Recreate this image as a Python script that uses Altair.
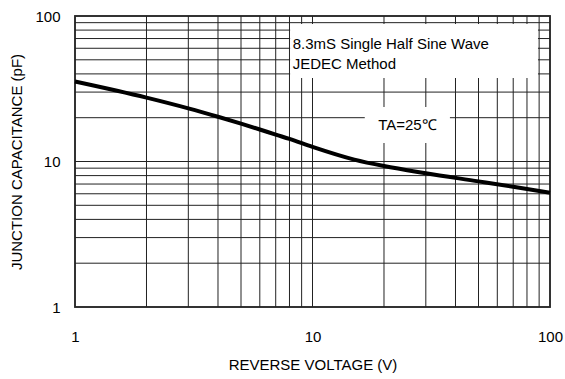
import altair as alt
import pandas as pd

voltage = [1, 2, 3, 4, 5, 6, 7, 8, 10, 15, 20, 30, 50, 70, 100]
capacitance = [35.5, 27.5, 23.2, 20.3, 18.2, 16.6, 15.3, 14.3, 12.6, 10.3, 9.3, 8.3, 7.3, 6.7, 6.1]

grid_values = [1, 2, 3, 4, 5, 6, 7, 8, 9, 10, 20, 30, 40, 50, 60, 70, 80, 90, 100]
tick_labels = [1, 10, 100]

note_lines = ["8.3mS Single Half Sine Wave", "JEDEC Method"]
temp_label = "TA=25℃"

FONT = "Liberation Sans"

curve = pd.DataFrame({"v": voltage, "c": capacitance})
grid = pd.DataFrame({"g": grid_values})

xscale = alt.Scale(type="log", domain=[1, 100], nice=False)
yscale = alt.Scale(type="log", domain=[1, 100], nice=False)

xaxis = alt.Axis(values=tick_labels, format="d", grid=False, ticks=False, domain=False,
                 labelFont=FONT, labelFontSize=15, labelColor="black", labelPadding=22,
                 labelFlush=False, titleFont=FONT, titleFontSize=15, titleFontWeight="normal",
                 titleColor="black", titlePadding=13)
yaxis = alt.Axis(values=tick_labels, format="d", grid=False, ticks=False, domain=False,
                 labelFont=FONT, labelFontSize=15, labelColor="black", labelPadding=15,
                 labelFlush=False, titleFont=FONT, titleFontSize=15, titleFontWeight="normal",
                 titleColor="black", titlePadding=10)

vgrid = alt.Chart(grid).mark_rule(color="#222", strokeWidth=1).encode(
    x=alt.X("g:Q", scale=xscale, axis=xaxis, title="REVERSE VOLTAGE (V)")
)
hgrid = alt.Chart(grid).mark_rule(color="#222", strokeWidth=1).encode(
    y=alt.Y("g:Q", scale=yscale, axis=yaxis, title="JUNCTION CAPACITANCE (pF)")
)

boxes = pd.DataFrame({
    "x1": [8.05, 16.6], "x2": [89.0, 37.9],
    "y1": [37.5, 13.4], "y2": [88.0, 23.7],
})
box_layer = alt.Chart(boxes).mark_rect(color="white").encode(
    x=alt.X("x1:Q", scale=xscale), x2="x2:Q",
    y=alt.Y("y1:Q", scale=yscale), y2="y2:Q",
)

note = pd.DataFrame({"x": [8.25, 8.25], "y": [64.5, 46.5], "t": note_lines})
note_layer = alt.Chart(note).mark_text(align="left", baseline="middle", font=FONT,
                                       fontSize=15, color="black").encode(
    x=alt.X("x:Q", scale=xscale), y=alt.Y("y:Q", scale=yscale), text="t:N"
)

temp = pd.DataFrame({"x": [18.9], "y": [17.7], "t": [temp_label]})
temp_layer = alt.Chart(temp).mark_text(align="left", baseline="middle", font=FONT,
                                       fontSize=15, color="black").encode(
    x=alt.X("x:Q", scale=xscale), y=alt.Y("y:Q", scale=yscale), text="t:N"
)

line = alt.Chart(curve).mark_line(color="black", strokeWidth=4, interpolate="monotone").encode(
    x=alt.X("v:Q", scale=xscale), y=alt.Y("c:Q", scale=yscale)
)

chart = alt.layer(vgrid, hgrid, box_layer, note_layer, temp_layer, line).properties(
    width=475, height=291,
    autosize=alt.AutoSizeParams(type="none"),
    padding={"left": 75, "top": 16, "right": 15, "bottom": 72},
    background="white",
).configure_view(stroke="#444", strokeWidth=2)

chart.save("out.html", embed_options={"renderer": "svg", "actions": False})
